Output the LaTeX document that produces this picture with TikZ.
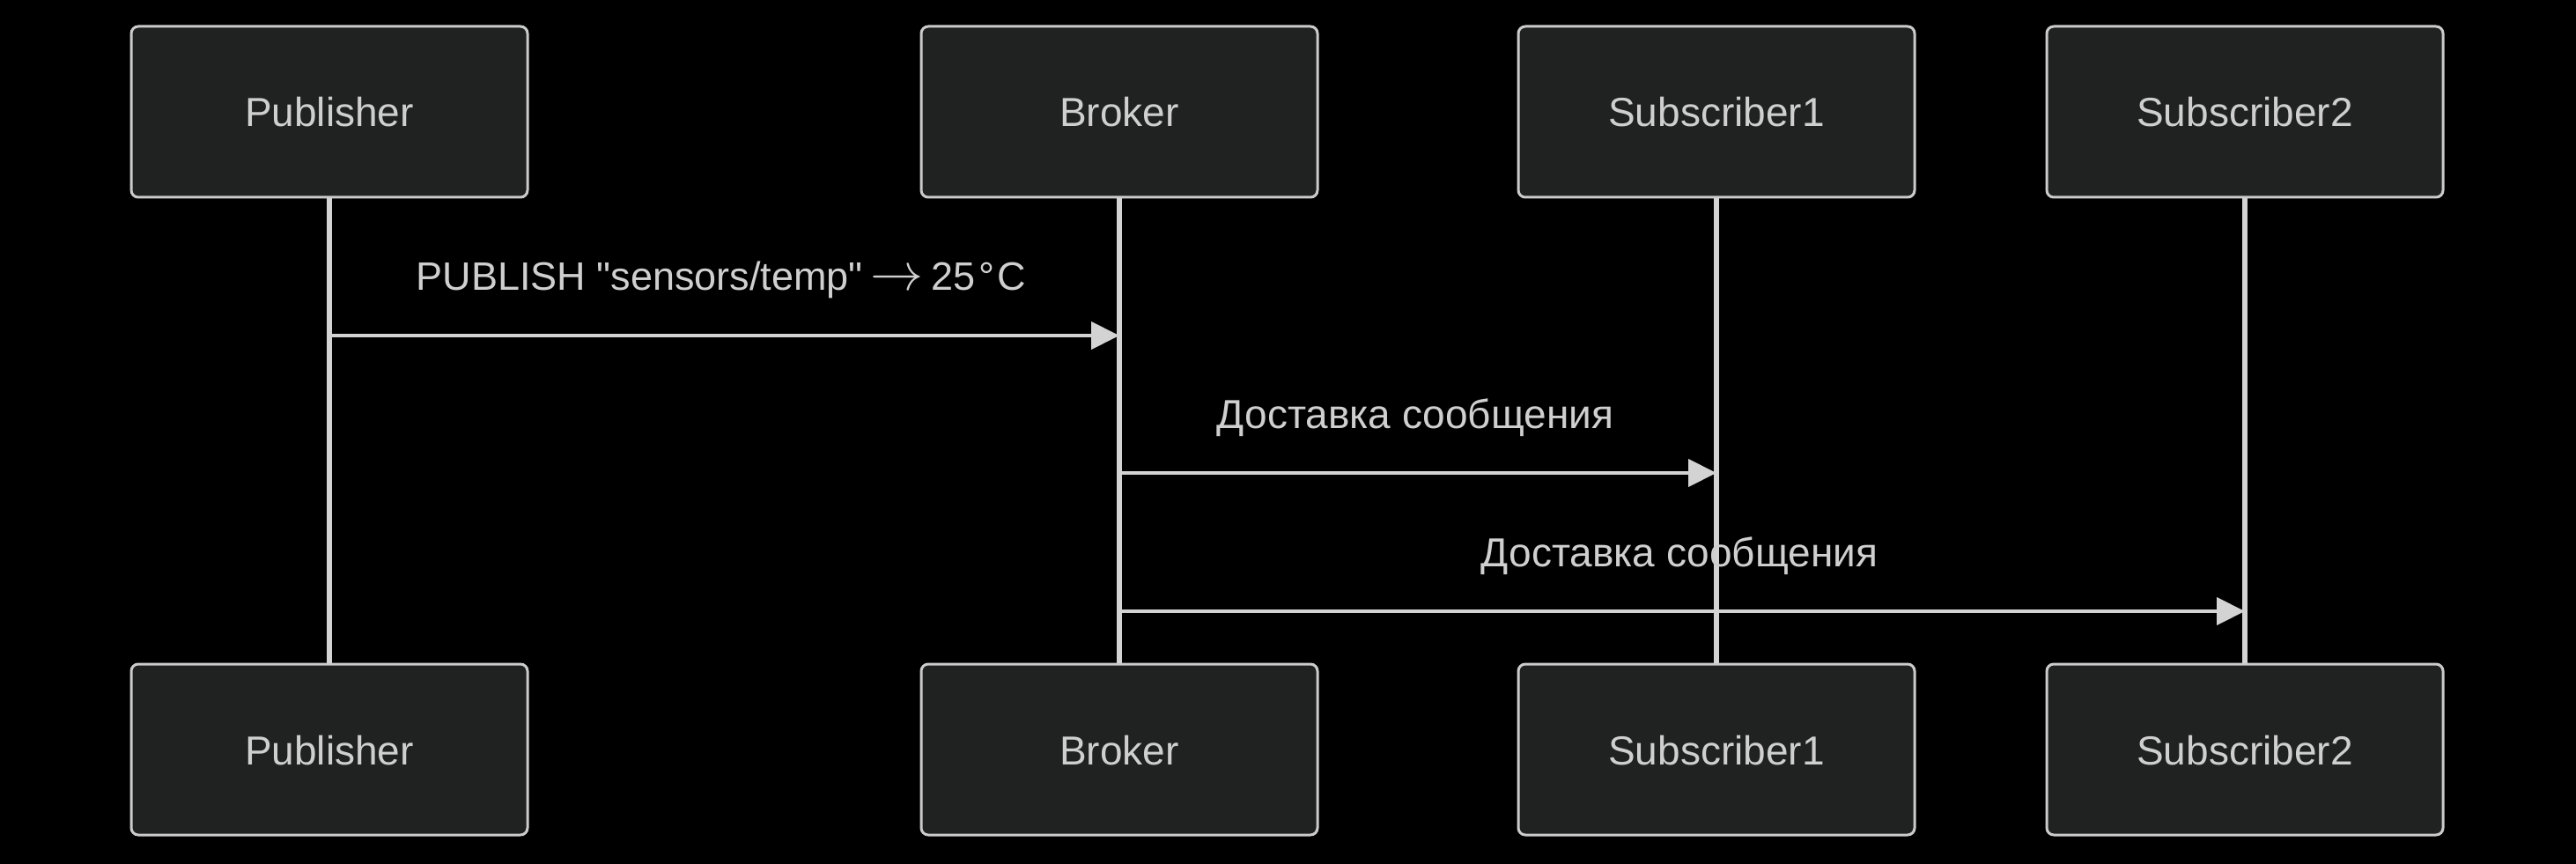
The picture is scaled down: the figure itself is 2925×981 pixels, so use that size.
\documentclass[tikz,border=0pt]{standalone}
\usepackage{fix-cm}
\usepackage{fontspec}
\setmainfont{Liberation Sans}
\usetikzlibrary{arrows.meta}
\definecolor{bgc}{HTML}{000000}
\definecolor{boxfill}{HTML}{202121}
\definecolor{boxline}{HTML}{CBCBCB}
\definecolor{linec}{HTML}{D3D3D3}
\definecolor{txtc}{HTML}{CFCFCF}
\tikzset{
  actor/.style={draw=boxline, fill=boxfill, line width=3pt, rounded corners=8pt,
    minimum width=450pt, minimum height=194pt, inner sep=0pt, text=txtc,
    font=\fontsize{46}{46}\selectfont},
  lifeline/.style={draw=linec, line width=5.5pt},
  msg/.style={draw=linec, line width=4pt, -{Triangle[length=32pt,width=31pt]}},
  msglabel/.style={text=txtc, font=\fontsize{46}{46}\selectfont, anchor=base, inner sep=0pt}
}
\begin{document}
\begin{tikzpicture}[x=1pt,y=-1pt]
\fill[bgc] (0,0) rectangle (2925,981);
\useasboundingbox (0,0) rectangle (2925,981);
% top actors
\node[actor] (pt) at (374,127) {};
\node[actor] (bt) at (1271,127) {};
\node[actor] (s1t) at (1949,127) {};
\node[actor] (s2t) at (2549,127) {};
% bottom actors
\node[actor] (pb) at (374,851) {};
\node[actor] (bb) at (1271,851) {};
\node[actor] (s1b) at (1949,851) {};
\node[actor] (s2b) at (2549,851) {};
% labels
\foreach \n/\t in {pt/Publisher, bt/Broker, s1t/Subscriber1, s2t/Subscriber2,
                   pb/Publisher, bb/Broker, s1b/Subscriber1, s2b/Subscriber2}{
  \node[msglabel] (\n-l) at ([yshift=-17pt]\n.center) {\t};
}
% lifelines
\draw[lifeline] (pt.south) -- (pb.north);
\draw[lifeline] (bt.south) -- (bb.north);
\draw[lifeline] (s1t.south) -- (s1b.north);
\draw[lifeline] (s2t.south) -- (s2b.north);
% message rows
\coordinate (r1) at (0,381);
\coordinate (r2) at (0,537);
\coordinate (r3) at (0,694);
\draw[msg] (pt.south |- r1) -- (bt.south |- r1);
\draw[msg] (bt.south |- r2) -- (s1t.south |- r2);
\draw[msg] (bt.south |- r3) -- (s2t.south |- r3);
\node[msglabel, font=\fontsize{45}{45}\selectfont] (l1) at (819,330) {PUBLISH \textquotedbl sensors/temp\textquotedbl\kern9pt{\fontsize{60}{60}\selectfont$\rightarrow$}\kern9pt 25\kern4pt°\kern3pt C};
\node[msglabel] (l2) at (1607,486) {Доставка сообщения};
\node[msglabel] (l3) at (1907,643) {Доставка сообщения};
\end{tikzpicture}
\end{document}
